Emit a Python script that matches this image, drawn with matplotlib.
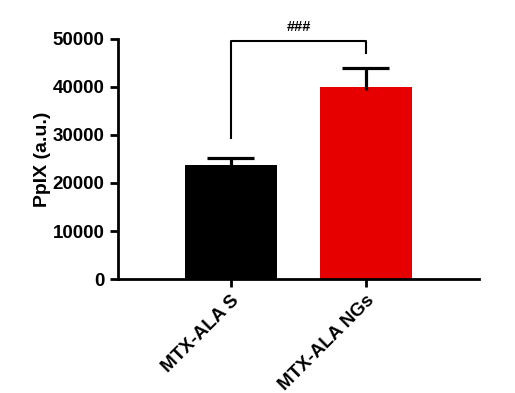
import numpy as np
import matplotlib
matplotlib.use('Agg')
import matplotlib.pyplot as plt

plt.rcParams['font.family'] = ['Liberation Sans', 'DejaVu Sans']
plt.rcParams['font.weight'] = 'bold'

groups = ['MTX-ALA S', 'MTX-ALA NGs']
means = [23800, 40000]
errs = [1450, 4000]
colors = ['black', '#e60000']
yticks = [0, 10000, 20000, 30000, 40000, 50000]

# significance bracket
sig_left = 29400
sig_right = 47100
sig_top = 49600
sig_label = '###'

fig = plt.figure(figsize=(5.15, 3.93), dpi=100)
ax = fig.add_axes([0.229, 0.290, 0.930 - 0.229, 0.611])

x = np.arange(len(groups))
ax.bar(x, means, width=0.68, color=colors, zorder=2)
tops = np.array(means) + np.array(errs)
# error bars: upper side only
ax.vlines(x, np.array(means) - 600, tops, color='black', lw=2.3, zorder=3)
ax.hlines(tops, x - 0.174, x + 0.174, color='black', lw=2.3, zorder=3)

ax.plot([x[0], x[0], x[1], x[1]], [sig_left, sig_top, sig_top, sig_right],
        color='black', lw=1.5, clip_on=False)
ax.text((x[0] + x[1]) / 2, sig_top + 1500, sig_label, ha='center', va='bottom',
        fontsize=10.5, fontweight='bold')

ax.set_xlim(-0.837, 1.837)
ax.set_ylim(0, 50000)
ax.set_yticks(yticks)
ax.set_yticklabels([str(v) for v in yticks], fontsize=13.5, fontweight='bold')
ax.set_xticks(x)
ax.set_xticklabels(groups, rotation=45, ha='right', rotation_mode='anchor',
                   fontsize=13.5, fontweight='bold')
ax.set_ylabel('PpIX (a.u.)', fontsize=14, fontweight='bold', labelpad=1)

for s in ['top', 'right']:
    ax.spines[s].set_visible(False)
for s in ['left', 'bottom']:
    ax.spines[s].set_linewidth(2)
ax.tick_params(width=2, length=6)

plt.savefig('out.png', dpi=100)
